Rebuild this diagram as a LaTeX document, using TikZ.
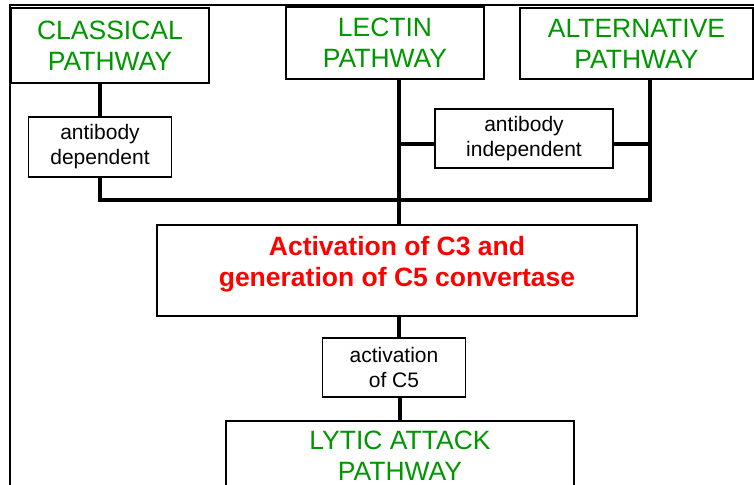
\documentclass[tikz,border=0pt]{standalone}
\usepackage{fontspec}
\setmainfont{Liberation Sans}
\usepackage{tikz}

\definecolor{pathgreen}{RGB}{0,150,0}
\definecolor{convred}{RGB}{255,0,0}
\tikzset{
    pathbox/.style={draw,line width=1.6pt,inner sep=0pt,align=center,
        text=pathgreen,font=\fontsize{26.5}{31}\selectfont},
    notebox/.style={draw,line width=1.6pt,inner sep=0pt,align=center,
        font=\fontsize{21}{25}\selectfont},
    link/.style={line width=3.6pt}
}

\begin{document}
\begin{tikzpicture}[x=1pt,y=-1pt]
    \useasboundingbox (0,0) rectangle (754,484);
    \clip (0,0) rectangle (754,484);
    % outer frame
    \draw [line width=1.6pt] (10,520) -- (10,5) -- (770,5);
    % the three pathways
    \node [pathbox,minimum width=198pt,minimum height=75pt] (classical) at (110,45.5) {CLASSICAL\\PATHWAY};
    \node [pathbox,minimum width=198pt,minimum height=72pt] (lectin) at (385,43) {LECTIN\\PATHWAY};
    \node [pathbox,minimum width=233pt,minimum height=71pt] (alternative) at (636.5,43.5) {ALTERNATIVE\\PATHWAY};
    \node [notebox,minimum width=143pt,minimum height=60pt] (dependent) at (100,147) {antibody\\dependent};
    \node [notebox,minimum width=178pt,minimum height=59pt] (independent) at (524,138.5) {antibody\\independent};
    % C3 and C5
    \node [draw,line width=1.6pt,minimum width=480pt,minimum height=91pt] (activation) at (397,270.5) {};
    \node [align=center,text=convred,font=\bfseries\fontsize{26.5}{31}\selectfont] (activtext) at (397,264)
        {Activation of C3 and\\generation of C5 convertase};
    \node [notebox,minimum width=143pt,minimum height=59pt] (cfive) at (394,367.5) {activation\\of C5};
    \node [draw,line width=1.6pt,minimum width=348pt,minimum height=86pt] (lytic) at (400,464) {};
    \node [align=center,text=pathgreen,font=\fontsize{26.5}{31}\selectfont] (lytictext) at (400,456)
        {LYTIC ATTACK\\PATHWAY};
    % junctions
    \coordinate (spine) at (399,200);
    \coordinate (joint) at (650,200);
    \coordinate (side) at (650,144);
    % connectors
    \draw [link] (dependent.north) -- (dependent.north |- classical.south);
    \draw [link] (dependent.south) -- (dependent.south |- joint) -- (joint) -- (joint |- alternative.south);
    \draw [link] (spine |- lectin.south) -- (spine |- activation.north);
    \draw [link] (spine |- side) -- (independent.west |- side);
    \draw [link] (independent.east |- side) -- (side);
    \draw [link] (spine |- activation.south) -- (spine |- cfive.north);
    \draw [link] (cfive.south -| lytic.north) -- (lytic.north);
\end{tikzpicture}
\end{document}
